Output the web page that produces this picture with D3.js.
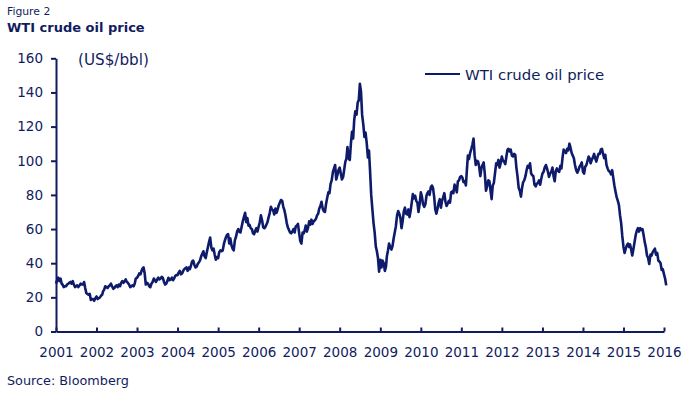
<!DOCTYPE html>
<html>
<head>
<meta charset="utf-8">
<script src="https://cdn.jsdelivr.net/npm/d3@7"></script>
<style>
  body { margin: 0; background: #fff; }
  svg { display: block; font-family: "DejaVu Sans", Verdana, sans-serif; }
</style>
</head>
<body>
<script>
// WTI crude oil price (US$/bbl), three readings per month (1st, 11th, 21st)
const startYear = 2001;
const wtiPrice = [
  // 2001
  28.0, 30.0, 31.5, 29.5, 31.0, 28.0, 27.5, 26.0, 26.5, 26.5, 27.5, 28.0,
  28.5, 29.0, 28.0, 29.5, 27.5, 26.0, 26.5, 27.0, 26.0, 27.0, 28.0, 27.5,
  27.5, 29.0, 25.5, 22.5, 22.0, 21.5, 22.0, 18.5, 19.0, 19.0, 18.0, 19.5,
  // 2002
  20.5, 19.0, 19.5, 20.0, 21.0, 21.5, 23.5, 24.5, 26.5, 26.0, 25.5, 26.5,
  27.0, 28.0, 26.5, 25.0, 25.5, 26.5, 27.0, 26.0, 27.5, 26.5, 28.5, 29.5,
  28.5, 29.5, 30.5, 29.0, 28.5, 27.5, 26.0, 26.5, 27.0, 26.5, 28.0, 31.0,
  // 2003
  31.5, 32.5, 34.0, 33.5, 35.5, 37.0, 37.5, 34.0, 27.5, 28.5, 28.0, 26.5,
  26.0, 28.0, 29.0, 31.0, 30.0, 29.0, 30.5, 31.5, 30.5, 31.0, 32.0, 31.5,
  29.0, 27.5, 28.0, 29.5, 31.5, 30.0, 30.5, 31.5, 30.0, 31.0, 32.5, 33.0,
  // 2004
  33.0, 34.5, 35.5, 33.5, 34.0, 35.5, 36.5, 37.0, 37.5, 35.5, 37.5, 36.5,
  38.5, 41.0, 41.5, 39.0, 37.5, 38.0, 39.5, 40.5, 41.5, 44.0, 45.5, 47.0,
  44.0, 43.0, 46.5, 49.5, 52.5, 55.0, 49.0, 47.5, 48.5, 45.0, 42.0, 43.5,
  // 2005
  43.0, 46.5, 47.5, 47.0, 47.5, 51.0, 53.0, 55.0, 56.5, 57.0, 51.5, 54.5,
  50.5, 48.5, 47.5, 53.5, 55.5, 58.5, 60.0, 58.5, 58.0, 61.5, 64.5, 67.0,
  69.5, 64.0, 66.5, 62.0, 62.5, 60.5, 60.0, 57.5, 57.0, 59.0, 60.5, 58.5,
  // 2006
  61.5, 64.0, 68.0, 65.0, 61.0, 60.5, 61.0, 62.5, 64.0, 67.0, 69.5, 73.0,
  71.5, 71.0, 68.5, 72.0, 69.5, 71.5, 74.0, 75.5, 77.0, 76.5, 73.0, 71.0,
  67.5, 63.5, 61.0, 59.5, 58.0, 57.5, 58.5, 60.0, 58.0, 61.5, 62.0, 63.0,
  // 2007
  57.5, 53.0, 51.5, 58.0, 57.5, 59.5, 62.0, 58.5, 60.5, 64.5, 62.5, 65.5,
  63.0, 64.5, 65.0, 66.0, 68.0, 69.0, 72.0, 73.5, 76.0, 72.0, 70.5, 70.0,
  75.0, 78.5, 81.5, 81.0, 86.5, 88.5, 93.5, 95.5, 97.5, 89.0, 91.5, 94.5,
  // 2008
  96.0, 92.5, 89.0, 90.5, 95.0, 99.5, 101.0, 108.0, 101.5, 100.5, 110.0, 117.0,
  113.0, 124.0, 129.0, 127.0, 134.0, 135.5, 145.0, 140.5, 127.0, 121.0, 114.0, 116.5,
  110.0, 102.0, 106.0, 93.5, 80.0, 72.0, 63.5, 58.0, 50.0, 47.0, 43.0, 35.0,
  // 2009
  42.0, 37.5, 41.5, 40.0, 35.5, 38.0, 44.0, 47.5, 51.5, 49.5, 48.0, 50.0,
  54.5, 58.0, 61.5, 68.0, 70.5, 69.0, 66.5, 60.5, 64.5, 70.5, 72.5, 69.0,
  68.5, 71.5, 67.0, 70.5, 75.5, 80.5, 78.0, 79.5, 76.5, 75.5, 70.0, 74.5,
  // 2010
  81.5, 79.0, 74.5, 73.0, 74.5, 79.5, 81.0, 82.0, 80.0, 84.5, 85.5, 84.0,
  79.0, 71.5, 69.0, 72.0, 75.5, 77.5, 72.5, 76.5, 78.5, 81.0, 76.0, 73.5,
  75.0, 76.5, 75.5, 81.5, 82.0, 81.0, 86.0, 84.5, 81.5, 88.0, 88.5, 90.5,
  // 2011
  91.0, 90.0, 87.5, 88.0, 85.5, 95.5, 103.0, 101.0, 104.5, 107.0, 109.5, 113.0,
  103.0, 97.5, 100.0, 99.5, 96.5, 91.0, 95.5, 97.5, 99.0, 92.0, 82.5, 85.0,
  88.5, 88.0, 82.5, 77.5, 85.5, 87.0, 93.0, 98.5, 97.5, 100.5, 96.0, 98.5,
  // 2012
  102.5, 100.0, 99.5, 98.0, 102.5, 106.5, 107.0, 105.5, 106.5, 103.0, 102.5, 104.0,
  103.5, 96.0, 91.0, 84.0, 82.5, 79.0, 84.0, 87.5, 88.5, 91.0, 94.5, 97.0,
  96.0, 98.5, 92.5, 91.5, 91.0, 86.0, 85.0, 86.5, 87.0, 88.5, 86.0, 89.5,
  // 2013
  92.5, 93.5, 96.0, 97.5, 95.5, 93.0, 90.5, 92.5, 93.5, 96.0, 91.0, 88.0,
  94.0, 95.5, 94.0, 93.5, 97.0, 95.5, 102.0, 106.5, 105.5, 104.5, 107.0, 106.0,
  110.0, 107.5, 104.5, 103.0, 101.5, 97.5, 94.5, 93.0, 94.5, 96.5, 97.5, 99.0,
  // 2014
  93.5, 92.5, 96.5, 97.5, 100.0, 102.5, 101.5, 98.5, 100.5, 102.0, 104.0, 101.5,
  99.5, 102.0, 104.0, 104.0, 106.5, 107.0, 104.0, 101.5, 103.5, 97.5, 95.5, 94.0,
  93.5, 92.0, 94.5, 90.0, 85.5, 82.0, 78.5, 76.5, 74.0, 68.0, 63.5, 56.0,
  // 2015
  49.5, 46.0, 48.5, 50.5, 51.5, 49.5, 51.0, 48.0, 44.5, 48.5, 52.5, 56.5,
  59.0, 60.5, 58.5, 60.5, 59.5, 60.0, 56.5, 52.5, 49.5, 44.5, 43.0, 39.5,
  45.0, 44.5, 46.5, 47.5, 48.5, 45.0, 46.0, 41.5, 41.0, 40.0, 36.0, 36.5,
  // 2016
  33.5, 31.0, 27.0
];
const readingDays = [1, 11, 21];

const yTicks = [0, 20, 40, 60, 80, 100, 120, 140, 160];
const xTickYears = d3.range(2001, 2017);

const ink = "#111c5e";
const lineColor = "#0e1a6a";

const width = 692, height = 394;

const data = wtiPrice.map((v, i) => ({
  date: new Date(startYear + Math.floor(i / 36), Math.floor(i / 3) % 12, readingDays[i % 3]),
  value: v
}));

const svg = d3.select("body").append("svg")
    .attr("width", width)
    .attr("height", height);

const x = d3.scaleTime()
    .domain([new Date(2001, 0, 1), new Date(2016, 0, 1)])
    .range([56, 664]);

const y = d3.scaleLinear()
    .domain([0, 160])
    .range([331.5, 58.3]);

// titles
svg.append("text")
    .attr("x", 7).attr("y", 15)
    .attr("font-size", 10.8)
    .attr("fill", ink)
    .text("Figure 2");

svg.append("text")
    .attr("x", 7).attr("y", 31.5)
    .attr("font-size", 13)
    .attr("font-weight", "bold")
    .attr("fill", ink)
    .text("WTI crude oil price");

svg.append("text")
    .attr("x", 7).attr("y", 384.5)
    .attr("font-size", 12.8)
    .attr("fill", ink)
    .text("Source: Bloomberg");

// axes
const yAxis = svg.append("g")
    .attr("transform", "translate(56,0)")
    .call(d3.axisLeft(y).tickValues(yTicks).tickSize(5).tickSizeOuter(0).tickPadding(8));

const xAxis = svg.append("g")
    .attr("transform", `translate(0,${y(0)})`)
    .call(d3.axisBottom(x)
        .tickValues(xTickYears.map(yr => new Date(yr, 0, 1)))
        .tickFormat(d3.timeFormat("%Y"))
        .tickSize(-4).tickSizeOuter(0).tickPadding(16));

[yAxis, xAxis].forEach(g => {
  g.select(".domain").attr("stroke", ink).attr("stroke-width", 2);
  g.selectAll(".tick line").attr("stroke", ink).attr("stroke-width", 2);
  g.selectAll(".tick text")
      .attr("fill", ink)
      .attr("font-size", 13.5)
      .attr("font-family", "DejaVu Sans, Verdana, sans-serif");
});

svg.append("text")
    .attr("x", 78).attr("y", 65)
    .attr("font-size", 15.2)
    .attr("fill", ink)
    .text("(US$/bbl)");

// price line
const line = d3.line()
    .x(d => x(d.date))
    .y(d => y(d.value));

svg.append("path")
    .datum(data)
    .attr("fill", "none")
    .attr("stroke", lineColor)
    .attr("stroke-width", 2.6)
    .attr("stroke-linejoin", "round")
    .attr("d", line);

// legend
svg.append("line")
    .attr("x1", 425).attr("x2", 460)
    .attr("y1", 74).attr("y2", 74)
    .attr("stroke", lineColor)
    .attr("stroke-width", 2);

svg.append("text")
    .attr("x", 465).attr("y", 80)
    .attr("font-size", 14.9)
    .attr("fill", ink)
    .text("WTI crude oil price");
</script>
</body>
</html>
